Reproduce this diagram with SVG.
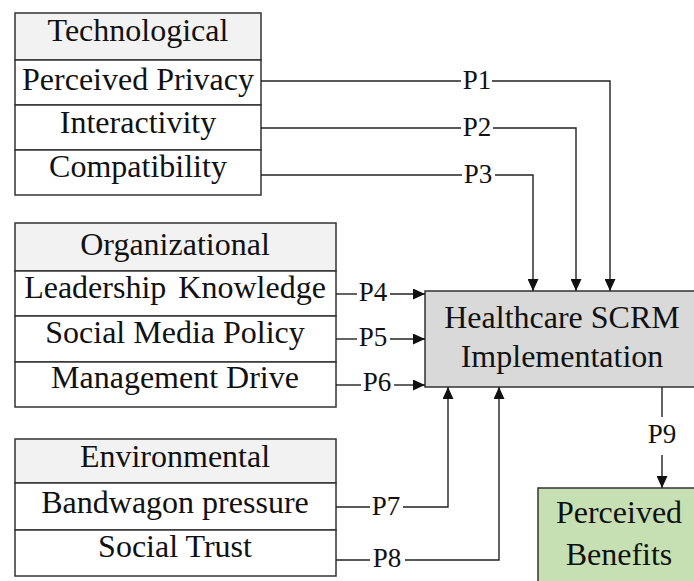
<svg xmlns="http://www.w3.org/2000/svg" width="694" height="581" viewBox="0 0 694 581">
<style>
.box{stroke:#333;stroke-width:1.5;fill:#fff}
.hdr{stroke:#333;stroke-width:1.5;fill:#f2f2f2}
.t{font-family:'Liberation Serif',serif;font-size:32px;fill:#111;text-anchor:middle}
.p{font-family:'Liberation Serif',serif;font-size:27px;fill:#111;text-anchor:middle}
.ln{stroke:#222;stroke-width:1.4;fill:none}
</style>
<defs>
<marker id="ah" markerUnits="userSpaceOnUse" markerWidth="13" markerHeight="11" refX="12" refY="5.5" orient="auto">
<path d="M0,0 L12,5.5 L0,11 Z" fill="#111"/>
</marker>
</defs>
<rect width="694" height="581" fill="#fff"/>

<g id="technological">
<rect class="hdr" x="15" y="13" width="246" height="47"/>
<rect class="box" x="15" y="60" width="246" height="45"/>
<rect class="box" x="15" y="105" width="246" height="45"/>
<rect class="box" x="15" y="150" width="246" height="45"/>
<text class="t" x="138" y="41">Technological</text>
<text class="t" x="138" y="90">Perceived Privacy</text>
<text class="t" x="138" y="133">Interactivity</text>
<text class="t" x="138" y="177">Compatibility</text>
</g>

<g id="organizational">
<rect class="hdr" x="15" y="223" width="321" height="48"/>
<rect class="box" x="15" y="271" width="321" height="45"/>
<rect class="box" x="15" y="316" width="321" height="46"/>
<rect class="box" x="15" y="362" width="321" height="45"/>
<text class="t" x="175" y="255">Organizational</text>
<text class="t" x="175" y="298" word-spacing="4">Leadership Knowledge</text>
<text class="t" x="175" y="343">Social Media Policy</text>
<text class="t" x="175" y="388">Management Drive</text>
</g>

<g id="environmental">
<rect class="hdr" x="15" y="439" width="321" height="44"/>
<rect class="box" x="15" y="483" width="321" height="47"/>
<rect class="box" x="15" y="530" width="321" height="46"/>
<text class="t" x="175" y="467">Environmental</text>
<text class="t" x="175" y="513">Bandwagon pressure</text>
<text class="t" x="175" y="557">Social Trust</text>
</g>

<g id="healthcare">
<rect x="425" y="291" width="270" height="96" fill="#d9d9d9" stroke="#333" stroke-width="1.5"/>
<text class="t" x="562" y="328" font-size="33">Healthcare SCRM</text>
<text class="t" x="562" y="367" font-size="33">Implementation</text>
</g>

<g id="benefits">
<rect x="538" y="488" width="164" height="100" fill="#c6e0b4" stroke="#333" stroke-width="1.5"/>
<text class="t" x="619" y="523">Perceived</text>
<text class="t" x="619" y="565">Benefits</text>
</g>

<g id="connectors">
<path class="ln" d="M261,81 H461"/>
<path class="ln" d="M492,81 H610 V291" marker-end="url(#ah)"/>
<text class="p" x="477" y="89">P1</text>

<path class="ln" d="M261,128 H461"/>
<path class="ln" d="M493,128 H576 V291" marker-end="url(#ah)"/>
<text class="p" x="477" y="136">P2</text>

<path class="ln" d="M261,175 H462"/>
<path class="ln" d="M495,175 H533 V291" marker-end="url(#ah)"/>
<text class="p" x="478" y="183">P3</text>

<path class="ln" d="M336,294 H357"/>
<path class="ln" d="M390,294 H425" marker-end="url(#ah)"/>
<text class="p" x="373" y="301">P4</text>

<path class="ln" d="M336,339 H357"/>
<path class="ln" d="M390,339 H425" marker-end="url(#ah)"/>
<text class="p" x="373" y="346">P5</text>

<path class="ln" d="M336,385 H361"/>
<path class="ln" d="M394,385 H425" marker-end="url(#ah)"/>
<text class="p" x="377" y="391">P6</text>

<path class="ln" d="M336,507 H370"/>
<path class="ln" d="M403,507 H448 V387" marker-end="url(#ah)"/>
<text class="p" x="386" y="515">P7</text>

<path class="ln" d="M336,560 H370"/>
<path class="ln" d="M405,560 H499 V387" marker-end="url(#ah)"/>
<text class="p" x="387" y="567">P8</text>

<path class="ln" d="M662,387 V417"/>
<path class="ln" d="M662,455 V488" marker-end="url(#ah)"/>
<text class="p" x="662" y="443">P9</text>
</g>
</svg>
